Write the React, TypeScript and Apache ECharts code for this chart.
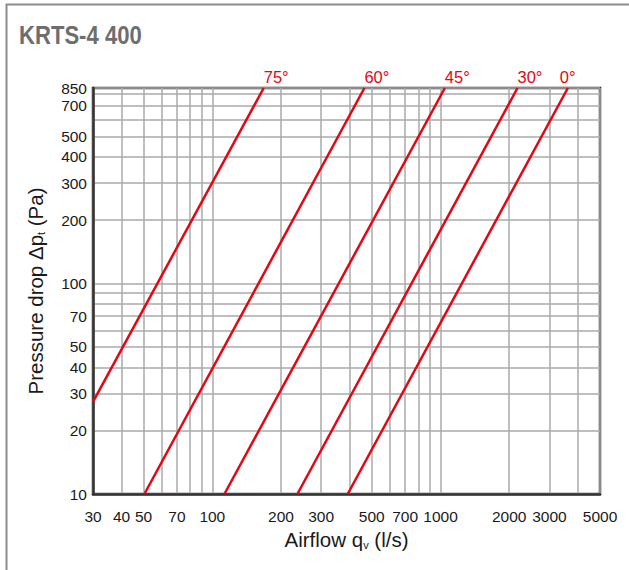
import React, { useEffect, useRef } from "react";
import * as echarts from "echarts";

const TITLE = "KRTS-4 400";
const X_LABELS = [30, 40, 50, 70, 100, 200, 300, 500, 700, 1000, 2000, 3000, 5000];
const X_GRID = [30, 40, 50, 60, 70, 80, 90, 100, 200, 300, 400, 500, 600, 700, 800, 900, 1000, 2000, 3000, 4000, 5000];
const Y_LABELS = [10, 20, 30, 40, 50, 70, 100, 200, 300, 400, 500, 700, 850];
const Y_GRID = [10, 20, 30, 40, 50, 60, 70, 80, 90, 100, 200, 300, 400, 500, 600, 700, 800, 850];

const SERIES_NAMES = ["75°", "60°", "45°", "30°", "0°"];
const LINE_75 = [[30, 27.4], [168, 850]];
const LINE_60 = [[50.4, 10], [464, 850]];
const LINE_45 = [[113, 10], [1045, 850]];
const LINE_30 = [[236, 10], [2175, 850]];
const LINE_0 = [[392, 10], [3615, 850]];
const LINES = [LINE_75, LINE_60, LINE_45, LINE_30, LINE_0];
const LABEL_OFFSETS = [0, 0, 0, 0, -8];

const FONT = "'Liberation Sans', Arial, sans-serif";
const RED = "#e30613";
const TEXT = "#1a1a1a";

export default function App() {
  const ref = useRef<HTMLDivElement>(null);
  useEffect(() => {
    if (!ref.current) return;
    const chart = echarts.init(ref.current, undefined, { renderer: "svg" });
    const series = LINES.map((pts, i) => ({
      type: "line",
      name: SERIES_NAMES[i],
      showSymbol: true,
      symbol: "circle",
      symbolSize: 0,
      lineStyle: { color: RED, width: 2.5 },
      itemStyle: { color: RED },
      z: 5,
      label: { show: false },
      data: pts.map((p, j) =>
        j === pts.length - 1
          ? {
              value: p,
              label: {
                show: true,
                position: "top",
                align: "left",
                distance: 3,
                offset: [LABEL_OFFSETS[i], 0],
                formatter: SERIES_NAMES[i],
                color: RED,
                fontSize: 16.5,
                fontFamily: FONT,
              },
            }
          : { value: p }
      ),
    }));
    chart.setOption({
      animation: false,
      backgroundColor: "#fff",
      grid: {
        left: 93,
        right: 29,
        top: 88,
        bottom: 76,
        show: true,
        borderColor: "#333",
        borderWidth: 2.5,
        backgroundColor: "transparent",
      },
      graphic: [
        {
          type: "polyline",
          shape: { points: [[6.5, 570], [6.5, 4.5], [629, 4.5]] },
          style: { stroke: "#8c8c8c", lineWidth: 2, fill: null },
          silent: true,
        },
        {
          type: "text",
          x: 19,
          y: 35,
          scaleX: 0.85,
          style: {
            text: TITLE,
            fill: "#6e6e6e",
            font: `bold 26px ${FONT}`,
            verticalAlign: "middle",
          },
        },
      ],
      xAxis: {
        type: "log",
        logBase: 10,
        min: 30,
        max: 5000,
        name: "{a|Airflow q}{s|v}{a| (l/s)}",
        nameLocation: "middle",
        nameGap: 31,
        nameTextStyle: {
          rich: {
            a: { fontSize: 20.5, fontFamily: FONT, color: TEXT },
            s: { fontSize: 11, fontFamily: FONT, color: TEXT, padding: [11, 0, 0, 0] },
          },
        },
        axisLine: { show: true, lineStyle: { color: "#333", width: 2.5 } },
        axisTick: { show: false, customValues: X_GRID },
        axisLabel: {
          customValues: X_LABELS,
          color: TEXT,
          fontSize: 15.5,
          fontFamily: FONT,
          margin: 14,
          formatter: (v: number) => String(Math.round(v)),
        },
        splitLine: { show: true, lineStyle: { color: "#aaa", width: 1.5 } },
        minorSplitLine: { show: false },
      },
      yAxis: {
        type: "log",
        logBase: 10,
        min: 10,
        max: 850,
        name: "{a|Pressure drop Δp}{s|t}{a| (Pa)}",
        nameLocation: "middle",
        nameGap: 47,
        nameRotate: 90,
        nameTextStyle: {
          rich: {
            a: { fontSize: 20.5, fontFamily: FONT, color: TEXT },
            s: { fontSize: 11, fontFamily: FONT, color: TEXT, padding: [11, 0, 0, 0] },
          },
        },
        axisLine: { show: true, lineStyle: { color: "#333", width: 2.5 } },
        axisTick: { show: false, customValues: Y_GRID },
        axisLabel: {
          customValues: Y_LABELS,
          color: TEXT,
          fontSize: 15.5,
          fontFamily: FONT,
          margin: 6,
          formatter: (v: number) => String(Math.round(v)),
        },
        splitLine: { show: true, lineStyle: { color: "#aaa", width: 1.5 } },
        minorSplitLine: { show: false },
      },
      series,
    });
    return () => chart.dispose();
  }, []);
  return (
    <div
      ref={ref}
      style={{ position: "fixed", left: 0, top: 0, width: 629, height: 570, background: "#fff" }}
    />
  );
}
